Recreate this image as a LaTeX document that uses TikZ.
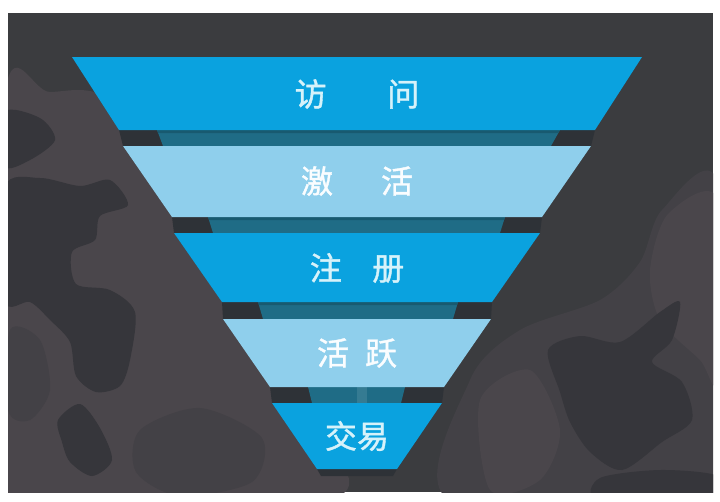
\documentclass[tikz,border=0pt]{standalone}
\usepackage{fontspec}
\newfontfamily\cjk{Noto Sans CJK SC}[FakeBold=1.2]
\definecolor{bgbase}{HTML}{3B3C3F}
\definecolor{camoL}{HTML}{4A464B}
\definecolor{camoM}{HTML}{434146}
\definecolor{camoD}{HTML}{36363B}
\definecolor{bandblue}{HTML}{0AA2DF}
\definecolor{bandlight}{HTML}{8FCFEC}
\definecolor{gapdark}{HTML}{2E3237}
\definecolor{gapteal}{HTML}{1F6C86}
\definecolor{gaptealdark}{HTML}{185A70}
\definecolor{txtblue}{HTML}{D6F2FA}
\definecolor{txtlight}{HTML}{FAFDFF}
\begin{document}
\begin{tikzpicture}[x=1pt,y=-1pt,
  bandtext/.style={font=\cjk\fontsize{32}{32}\selectfont, inner sep=0pt, anchor=center},
  gapshade/.style={fill=gapdark},
  gapcore/.style={fill=gapteal}]
\useasboundingbox (0,0) rectangle (720,501);
\fill[white] (0,0) rectangle (720,501);
\fill[bgbase] (8,13) rectangle (713,492);
\begin{scope}
\clip (8,13) rectangle (713,492);
% left light camo region
\fill[camoL] plot[smooth cycle, tension=0.6] coordinates {(4,100) (50,92) (110,98) (200,170) (300,400) (330,500) (4,500)};
% left dark blobs
\fill[camoD] plot[smooth cycle, tension=0.5] coordinates {(4,188) (40,178) (80,186) (110,180) (128,205) (100,216) (95,240) (72,252) (76,284) (110,290) (135,312) (130,360) (120,386) (96,392) (76,376) (70,342) (50,320) (30,302) (4,300)};
\fill[camoD] plot[smooth cycle, tension=0.5] coordinates {(58,420) (80,404) (100,428) (112,460) (92,476) (70,462) (62,442)};
\fill[camoD] plot[smooth cycle, tension=0.5] coordinates {(4,112) (40,118) (55,140) (30,160) (4,166)};
\fill[camoM] plot[smooth cycle, tension=0.5] coordinates {(140,430) (200,408) (262,438) (252,482) (180,496) (136,472)};
\fill[camoM] plot[smooth cycle, tension=0.5] coordinates {(10,330) (40,340) (50,390) (30,420) (8,410)};
% right light camo region
\fill[camoM] plot[smooth cycle, tension=0.5] coordinates {(718,185) (662,210) (640,262) (600,300) (520,330) (470,380) (450,500) (718,500)};
\fill[camoL] plot[smooth cycle, tension=0.5] coordinates {(718,200) (668,214) (650,270) (660,320) (700,360) (718,380)};
\fill[camoL] plot[smooth cycle, tension=0.5] coordinates {(480,400) (530,370) (560,430) (540,480) (490,490)};
% right dark blob
\fill[camoD] plot[smooth cycle, tension=0.5] coordinates {(548,350) (580,336) (620,342) (660,312) (680,302) (672,340) (652,362) (682,382) (692,420) (662,442) (622,470) (590,452) (570,422) (560,392)};
\fill[camoD] plot[smooth cycle, tension=0.5] coordinates {(600,478) (660,470) (718,476) (718,500) (600,500)};
\end{scope}
% gaps between bands (back faces)
\fill[gapshade] (119,130) -- (595,130) -- (591,146) -- (123,146) -- cycle;
\fill[gapcore]  (157,130) -- (560,130) -- (551,146) -- (163,146) -- cycle;
\fill[gaptealdark] (157,130) -- (560,130) -- (558,133) -- (158,133) -- cycle;
\fill[gapshade] (172,217) -- (542,217) -- (540,233) -- (174,233) -- cycle;
\fill[gapcore]  (208,217) -- (505,217) -- (500,233) -- (213,233) -- cycle;
\fill[gaptealdark] (208,217) -- (505,217) -- (504,220) -- (209,220) -- cycle;
\fill[gapshade] (222,302) -- (492,302) -- (491,319) -- (223,319) -- cycle;
\fill[gapcore]  (258,302) -- (458,302) -- (453,319) -- (263,319) -- cycle;
\fill[gaptealdark] (258,302) -- (458,302) -- (457,305) -- (259,305) -- cycle;
\fill[gapshade] (270,387) -- (444,387) -- (442,403) -- (272,403) -- cycle;
\fill[gapcore]  (308,387) -- (405,387) -- (401,403) -- (312,403) -- cycle;
\fill[gapteal!90!white] (357,387) rectangle (367,403);
\fill[gapshade] (317,469) -- (397,469) -- (393,476) -- (321,476) -- cycle;
% bands
\fill[bandblue]  (72,57)  -- (642,57)  -- (595,130) -- (119,130) -- cycle;
\fill[bandlight] (123,146) -- (591,146) -- (542,217) -- (172,217) -- cycle;
\fill[bandblue]  (174,233) -- (540,233) -- (492,302) -- (222,302) -- cycle;
\fill[bandlight] (223,319) -- (491,319) -- (444,387) -- (270,387) -- cycle;
\fill[bandblue]  (272,403) -- (442,403) -- (397,469) -- (317,469) -- cycle;
% labels
\node[bandtext, text=txtblue]  (t1) at (357,94)  {访\hspace{1.9em}问};
\node[bandtext, text=txtlight] (t2) at (357,181) {激\hspace{1.5em}活};
\node[bandtext, text=txtblue]  (t3) at (357,268) {注\hspace{0.95em}册};
\node[bandtext, text=txtlight] (t4) at (357,353) {活\hspace{0.5em}跃};
\node[bandtext, text=txtblue]  (t5) at (357,436) {交易};
\end{tikzpicture}
\end{document}
